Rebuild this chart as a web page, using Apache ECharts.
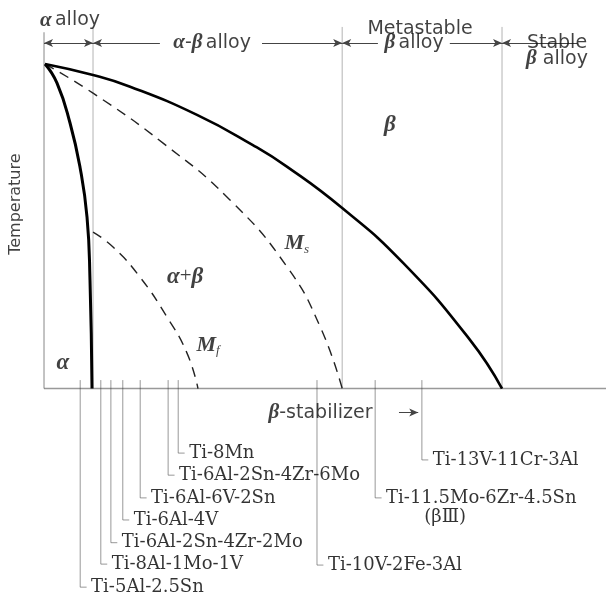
<!DOCTYPE html>
<html><head><meta charset="utf-8">
<script src="https://cdn.jsdelivr.net/npm/echarts@6.0.0/dist/echarts.min.js"></script>
<style>html,body{margin:0;padding:0;background:#fff}#c{width:606px;height:593px}</style>
</head><body><div id="c"></div>
<script>
// x: beta-stabilizer content (schematic units, stable-beta limit = 100); y: temperature (apex = 100)
const classBoundaries = [0, 10.7, 65.1, 100];
const betaTransus = [[0.22,100],[10.7,96.6],[18.8,93.0],[33.4,84.3],[45.6,75.0],[53.1,68.3],[65.1,55.6],[78.4,38.7],[93.0,15.0],[100,0]];
const alphaSolvus = [[0.22,100],[2.84,94.1],[5.68,81.8],[7.86,68.2],[9.39,52.8],[10.04,33.4],[10.48,0]];
const msLine = [[0.22,100],[10.7,91.0],[26.0,75.6],[40.6,58.1],[53.1,37.4],[60.3,19.0],[65.1,0]];
const mfLine = [[10.7,48.2],[15.07,43.6],[20.96,34.3],[26.86,22.0],[31.22,10.9],[33.62,0]];
const alloyNames = ['Ti-5Al-2.5Sn','Ti-8Al-1Mo-1V','Ti-6Al-2Sn-4Zr-2Mo','Ti-6Al-4V','Ti-6Al-6V-2Sn','Ti-6Al-2Sn-4Zr-6Mo','Ti-8Mn','Ti-10V-2Fe-3Al','Ti-11.5Mo-6Zr-4.5Sn','Ti-13V-11Cr-3Al'];
const alloyContent = [7.9, 12.4, 14.6, 17.2, 21.0, 27.1, 29.3, 59.6, 72.3, 82.5];

// ---- layout (not data) ----
const alloyLabelDepth = [-61.2,-54.1,-47.5,-40.5,-33.7,-26.7,-19.9,-54.4,-33.7,-22.0];
const boundaryTops = [109.8, 111.1, 111.4, 111.4];
const X_MIN = -9.61, X_MAX = 122.7, Y_MIN = -63, Y_MAX = 119.7;
const HEAD_V = 106.45;
const sans = "'DejaVu Sans', sans-serif";
const serif = "'Liberation Serif', 'Times New Roman', serif";
const lserif = "'DejaVu Serif', serif";
const ink = '#111';

const rich = {
  g: {fontFamily: serif, fontStyle: 'italic', fontWeight: 'bold', fontSize: 21, color: ink},
  t: {fontFamily: sans, fontSize: 19, color: ink},
  G: {fontFamily: serif, fontStyle: 'italic', fontWeight: 'bold', fontSize: 23, color: ink},
  p: {fontFamily: serif, fontSize: 21, color: ink},
  m: {fontFamily: serif, fontStyle: 'italic', fontWeight: 'bold', fontSize: 22, color: ink},
  s: {fontFamily: serif, fontStyle: 'italic', fontSize: 13, color: ink, padding: [12,0,0,0]},
  a: {fontFamily: lserif, fontSize: 18, color: '#000'},
  r: {fontFamily: lserif, fontSize: 18, color: '#000'}
};

const texts = [];
function txt(u, v, fmt, extra) {
  texts.push({value: [u, v], label: Object.assign({show: true, position: 'inside', formatter: fmt, rich: rich}, extra || {})});
}
// header
txt(5.68, 113.5, '{g|α} {t|alloy}');
txt(36.7, HEAD_V, '{g|α}{t|-}{g|β} {t|alloy}');
txt(82.1, 110.6, '{t|Metastable}');
txt(80.8, HEAD_V, '{g|β} {t|alloy}');
txt(112.0, HEAD_V, '{t|Stable}');
txt(112.0, 101.5, '{g|β}{t| alloy}');
// regions
txt(75.5, 81.2, '{G|β}');
txt(55.2, 44.8, '{m|M}{s|s}');
txt(30.8, 34.4, '{G|α}{p|+}{G|β}');
txt(35.8, 13.4, '{m|M}{s|f}');
txt(4.1, 7.9, '{G|α}');
// axis titles
txt(-6.1, 56.8, '{t|Temperature}', {rotate: 90, rich: Object.assign({}, rich, {t: {fontFamily: sans, fontSize: 16, color: ink}})});
txt(48.9, -7.55, '{g|β}{t|-stabilizer}', {position: 'right', distance: 0});
// alloy labels
alloyNames.forEach((n, i) => {
  txt(alloyContent[i] + 1.4, alloyLabelDepth[i], '{a|' + n + '}', {position: 'right', distance: 4});
});
txt(87.6, -39.8, '{r|(βⅢ)}');

const frame = [];
frame.push({coords: [[0,0],[X_MAX,0]], lineStyle: {color: '#333', width: 1.6}});
classBoundaries.forEach((b, i) => frame.push({coords: [[b,0],[b,boundaryTops[i]]], lineStyle: {color: i === 0 ? '#555' : '#6a6a6a', width: i === 0 ? 1.4 : 1}}));

const leaders = alloyContent.map((c, i) => ({coords: [[c,2.6],[c,alloyLabelDepth[i]],[c+1.4,alloyLabelDepth[i]]]}));

function seg(a, b, v, s, e) {
  return [{coord: [a, v], symbol: s ? 'arrow' : 'none'}, {coord: [b, v], symbol: e ? 'arrow' : 'none'}];
}
const arrows = [
  seg(classBoundaries[0], classBoundaries[1], HEAD_V, true, true),
  seg(classBoundaries[1], 25.3, HEAD_V, true, false),
  seg(47.6, classBoundaries[2], HEAD_V, false, true),
  seg(classBoundaries[2], 72.9, HEAD_V, true, false),
  seg(88.6, classBoundaries[3], HEAD_V, false, true),
  seg(classBoundaries[3], 116.5, HEAD_V, true, false),
  seg(77.5, 81.7, -7.4, false, true)
];

const chart = echarts.init(document.getElementById('c'), null, {renderer: 'canvas'});
chart.setOption({
  animation: false,
  backgroundColor: '#fff',
  grid: {left: 0, right: 0, top: 0, bottom: 0, containLabel: false},
  xAxis: {type: 'value', min: X_MIN, max: X_MAX, show: false},
  yAxis: {type: 'value', min: Y_MIN, max: Y_MAX, show: false},
  series: [
    {type: 'lines', coordinateSystem: 'cartesian2d', polyline: true, silent: true, data: frame, z: 1},
    {type: 'lines', coordinateSystem: 'cartesian2d', polyline: true, silent: true, data: leaders, lineStyle: {color: '#333', width: 1}, z: 1},
    {type: 'line', data: betaTransus, smooth: 0.5, showSymbol: false, silent: true, lineStyle: {color: '#000', width: 2.6}, z: 3},
    {type: 'line', data: alphaSolvus, smooth: 0.5, showSymbol: false, silent: true, lineStyle: {color: '#000', width: 3}, z: 3},
    {type: 'line', data: msLine, smooth: 0.5, showSymbol: false, silent: true, lineStyle: {color: '#222', width: 1.4, type: [10, 7]}, z: 2,
      markLine: {silent: true, symbolSize: [6, 9], label: {show: false}, lineStyle: {type: 'solid', color: '#444', width: 1}, emphasis: {disabled: true}, data: arrows}},
    {type: 'line', data: mfLine, smooth: 0.5, showSymbol: false, silent: true, lineStyle: {color: '#222', width: 1.4, type: [10, 7]}, z: 2},
    {type: 'scatter', data: texts, symbolSize: 1, silent: true, itemStyle: {color: 'rgba(0,0,0,0)'}, z: 5}
  ]
});
</script></body></html>
